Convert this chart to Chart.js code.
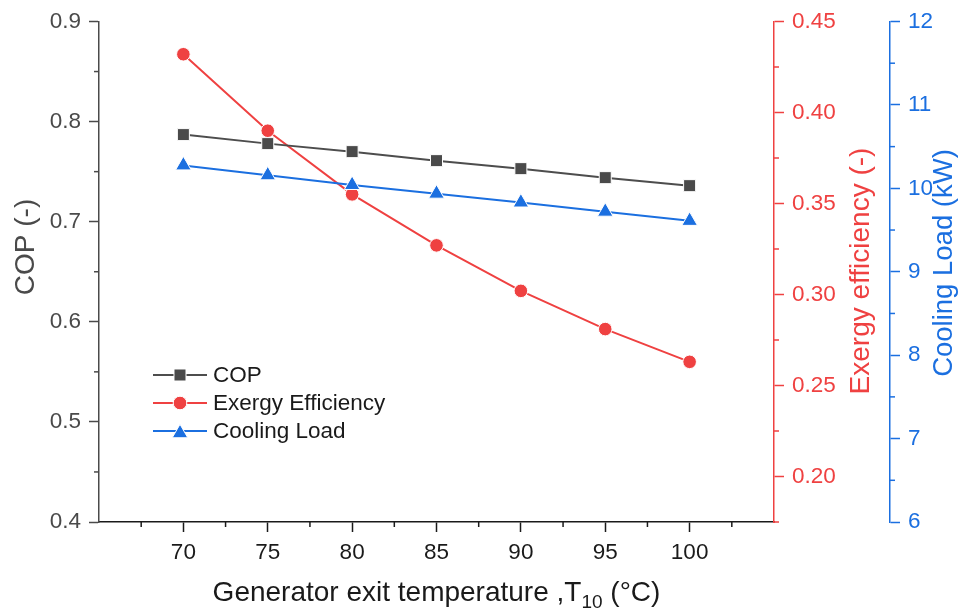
<!DOCTYPE html>
<html>
<head>
<meta charset="utf-8">
<script src="https://cdn.jsdelivr.net/npm/chart.js@4.4.1/dist/chart.umd.min.js"></script>
<style>
  html, body { margin: 0; padding: 0; background: #ffffff; }
  #wrap { width: 964px; height: 612px; }
</style>
</head>
<body>
<div id="wrap"><canvas id="chart" width="964" height="612"></canvas></div>
<script>
// Generator exit temperature T10 (°C)
const temperatures = [70, 75, 80, 85, 90, 95, 100];
// Performance results
const copValues     = [0.787, 0.778, 0.770, 0.761, 0.753, 0.744, 0.736];
const exergyValues  = [0.432, 0.390, 0.355, 0.327, 0.302, 0.281, 0.263];
const coolingValues = [10.275, 10.156, 10.040, 9.936, 9.830, 9.720, 9.610];

// Axis ticks
const tempTicks          = [70, 75, 80, 85, 90, 95, 100];
const tempMinorTicks     = [67.5, 72.5, 77.5, 82.5, 87.5, 92.5, 97.5, 102.5];
const copTicks           = [0.4, 0.5, 0.6, 0.7, 0.8, 0.9];
const copMinorTicks      = [0.45, 0.55, 0.65, 0.75, 0.85];
const exergyTicks        = [0.20, 0.25, 0.30, 0.35, 0.40, 0.45];
const exergyMinorTicks   = [0.175, 0.225, 0.275, 0.325, 0.375, 0.425];
const coolingTicks       = [6, 7, 8, 9, 10, 11, 12];
const coolingMinorTicks  = [6.5, 7.5, 8.5, 9.5, 10.5, 11.5];

const FONT = "'Liberation Sans', Arial, Helvetica, sans-serif";
const GREY = '#4a4a4a';
const RED = '#EF4141';
const BLUE = '#1B6FE0';
const BLACK = '#1a1a1a';

const toPoints = (ys) => temperatures.map((t, i) => ({ x: t, y: ys[i] }));

// Short outward ticks between the labelled ones
const minorTicksPlugin = {
  id: 'minorTicks',
  afterDraw(chart) {
    const ctx = chart.ctx;
    const specs = [
      { id: 'x',  vals: tempMinorTicks,    color: BLACK },
      { id: 'y',  vals: copMinorTicks,     color: GREY },
      { id: 'y1', vals: exergyMinorTicks,  color: RED },
      { id: 'y2', vals: coolingMinorTicks, color: BLUE }
    ];
    ctx.save();
    ctx.lineWidth = 1.5;
    specs.forEach(s => {
      const sc = chart.scales[s.id];
      ctx.strokeStyle = s.color;
      s.vals.forEach(v => {
        const p = sc.getPixelForValue(v);
        ctx.beginPath();
        if (s.id === 'x') {
          ctx.moveTo(p, sc.top); ctx.lineTo(p, sc.top + 5);
        } else if (s.id === 'y') {
          ctx.moveTo(sc.right, p); ctx.lineTo(sc.right - 5, p);
        } else {
          ctx.moveTo(sc.left, p); ctx.lineTo(sc.left + 5, p);
        }
        ctx.stroke();
      });
    });
    ctx.restore();
  }
};

// Axis titles (rotated upward on both sides, subscript on the x title)
const axisTitlesPlugin = {
  id: 'axisTitles',
  afterDraw(chart) {
    const ctx = chart.ctx;
    const area = chart.chartArea;
    const drawVertical = (text, x, y, color, size) => {
      ctx.save();
      ctx.translate(x, y);
      ctx.rotate(-Math.PI / 2);
      ctx.fillStyle = color;
      ctx.font = size + 'px ' + FONT;
      ctx.textAlign = 'center';
      ctx.textBaseline = 'middle';
      ctx.fillText(text, 0, 0);
      ctx.restore();
    };
    drawVertical('COP (-)', 26, 247, GREY, 28);
    drawVertical('Exergy efficiency (-)', 861, 271, RED, 28);
    drawVertical('Cooling Load (kW)', 944, 263, BLUE, 27.5);

    // x title: "Generator exit temperature ,T" + sub "10" + " (°C)"
    const main1 = 'Generator exit temperature ,T';
    const sub = '10';
    const main2 = ' (°C)';
    const mainFont = '28px ' + FONT;
    const subFont = '19px ' + FONT;
    ctx.save();
    ctx.fillStyle = BLACK;
    ctx.textBaseline = 'alphabetic';
    ctx.textAlign = 'left';
    ctx.font = mainFont;
    const w1 = ctx.measureText(main1).width;
    const w3 = ctx.measureText(main2).width;
    ctx.font = subFont;
    const w2 = ctx.measureText(sub).width;
    const total = w1 + w2 + w3;
    const cx = (area.left + area.right) / 2;
    const baseY = 601;
    let x = cx - total / 2;
    ctx.font = mainFont;
    ctx.fillText(main1, x, baseY);
    x += w1;
    ctx.font = subFont;
    ctx.fillText(sub, x, baseY + 7);
    x += w2;
    ctx.font = mainFont;
    ctx.fillText(main2, x, baseY);
    ctx.restore();
  }
};

// Legend drawn as line–marker–line samples
const lineLegendPlugin = {
  id: 'lineLegend',
  afterDraw(chart) {
    const ctx = chart.ctx;
    const x0 = 153, x1 = 207, mx = 180, tx = 213;
    const rows = [375, 403, 431];
    ctx.save();
    chart.data.datasets.forEach((ds, i) => {
      const y = rows[i];
      ctx.strokeStyle = ds.borderColor;
      ctx.lineWidth = 2;
      ctx.beginPath();
      ctx.moveTo(x0, y); ctx.lineTo(x1, y);
      ctx.stroke();
      ctx.fillStyle = ds.pointBackgroundColor;
      ctx.strokeStyle = '#ffffff';
      ctx.lineWidth = 1;
      ctx.beginPath();
      if (ds.pointStyle === 'rect') {
        const h = ds.pointRadius * Math.SQRT1_2;
        ctx.rect(mx - h, y - h, 2 * h, 2 * h);
      } else if (ds.pointStyle === 'circle') {
        ctx.arc(mx, y, ds.pointRadius, 0, Math.PI * 2);
      } else {
        const r = ds.pointRadius;
        const yc = y + r * 0.25;
        ctx.moveTo(mx, yc - r);
        ctx.lineTo(mx + r * Math.sin(2 * Math.PI / 3), yc - r * Math.cos(2 * Math.PI / 3));
        ctx.lineTo(mx - r * Math.sin(2 * Math.PI / 3), yc - r * Math.cos(2 * Math.PI / 3));
        ctx.closePath();
      }
      ctx.fill();
      ctx.stroke();
      ctx.fillStyle = BLACK;
      ctx.font = '22.5px ' + FONT;
      ctx.textAlign = 'left';
      ctx.textBaseline = 'middle';
      ctx.fillText(ds.label, tx, y + 1);
    });
    ctx.restore();
  }
};

const tickFont = { family: FONT, size: 22.5 };

new Chart(document.getElementById('chart'), {
  type: 'line',
  data: {
    datasets: [
      {
        label: 'COP',
        data: toPoints(copValues),
        yAxisID: 'y',
        borderColor: '#4d4d4d',
        backgroundColor: '#4a4a4a',
        pointBackgroundColor: '#4a4a4a',
        pointBorderColor: '#ffffff',
        pointBorderWidth: 1,
        pointStyle: 'rect',
        pointRadius: 8.5,
        borderWidth: 2,
        order: 1
      },
      {
        label: 'Exergy Efficiency',
        data: toPoints(exergyValues),
        yAxisID: 'y1',
        borderColor: RED,
        backgroundColor: RED,
        pointBackgroundColor: RED,
        pointBorderColor: '#ffffff',
        pointBorderWidth: 1,
        pointStyle: 'circle',
        pointRadius: 6.8,
        borderWidth: 2,
        order: 2
      },
      {
        label: 'Cooling Load',
        data: toPoints(coolingValues),
        yAxisID: 'y2',
        borderColor: BLUE,
        backgroundColor: BLUE,
        pointBackgroundColor: BLUE,
        pointBorderColor: '#ffffff',
        pointBorderWidth: 1,
        pointStyle: 'triangle',
        pointRadius: 9,
        borderWidth: 2,
        order: 0
      }
    ]
  },
  options: {
    responsive: false,
    animation: false,
    devicePixelRatio: 1,
    layout: { padding: { top: 20, left: 0, right: 0, bottom: 0 } },
    plugins: { legend: { display: false }, tooltip: { enabled: false } },
    scales: {
      x: {
        type: 'linear',
        position: 'bottom',
        min: 65,
        max: 105,
        afterBuildTicks: s => { s.ticks = tempTicks.map(v => ({ value: v })); },
        afterFit: s => { s.height = 90; },
        ticks: { color: BLACK, font: tickFont, padding: 7, maxRotation: 0, callback: v => String(v) },
        grid: { drawOnChartArea: false, drawTicks: true, tickLength: 10, tickWidth: 1.5, tickColor: BLACK },
        border: { display: true, color: BLACK, width: 1.5 },
        title: { display: false }
      },
      y: {
        type: 'linear',
        position: 'left',
        min: 0.4,
        max: 0.9,
        afterBuildTicks: s => { s.ticks = copTicks.map(v => ({ value: v })); },
        afterFit: s => { s.width = 99; },
        ticks: { color: GREY, font: tickFont, padding: 8, callback: v => v.toFixed(1) },
        grid: { drawOnChartArea: false, drawTicks: true, tickLength: 10, tickWidth: 1.5, tickColor: GREY },
        border: { display: true, color: GREY, width: 1.5 }
      },
      y1: {
        type: 'linear',
        position: 'right',
        weight: 1,
        min: 0.175,
        max: 0.45,
        afterBuildTicks: s => { s.ticks = exergyTicks.map(v => ({ value: v })); },
        afterFit: s => { s.width = 116; },
        ticks: { color: RED, font: tickFont, padding: 8, callback: v => v.toFixed(2) },
        grid: { drawOnChartArea: false, drawTicks: true, tickLength: 10, tickWidth: 1.5, tickColor: RED },
        border: { display: true, color: RED, width: 1.5 }
      },
      y2: {
        type: 'linear',
        position: 'right',
        weight: 2,
        min: 6,
        max: 12,
        afterBuildTicks: s => { s.ticks = coolingTicks.map(v => ({ value: v })); },
        afterFit: s => { s.width = 74; },
        ticks: { color: BLUE, font: tickFont, padding: 8, callback: v => String(v) },
        grid: { drawOnChartArea: false, drawTicks: true, tickLength: 10, tickWidth: 1.5, tickColor: BLUE },
        border: { display: true, color: BLUE, width: 1.5 }
      }
    }
  },
  plugins: [minorTicksPlugin, axisTitlesPlugin, lineLegendPlugin]
});
</script>
</body>
</html>
